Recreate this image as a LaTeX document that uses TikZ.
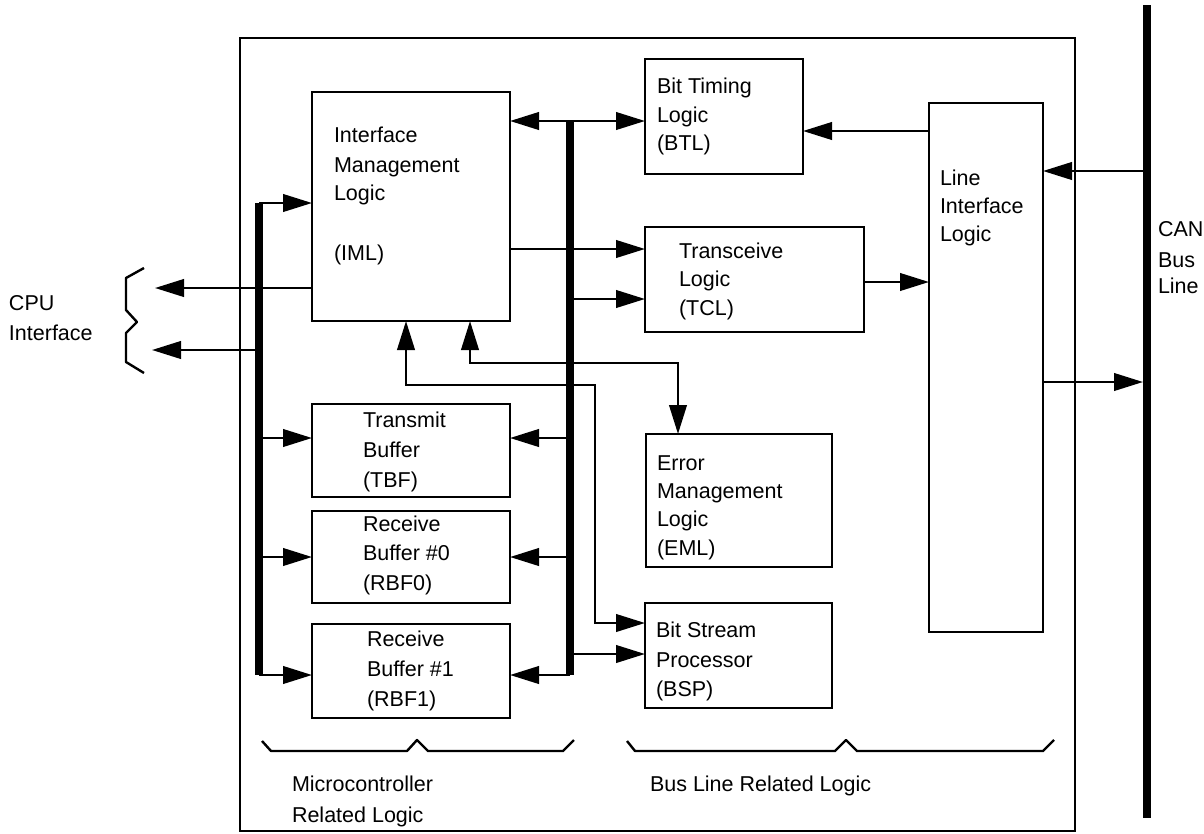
\documentclass[tikz,border=0pt]{standalone}
\usepackage{fontspec}
\setmainfont{Liberation Sans}
\usetikzlibrary{arrows.meta}
\begin{document}
\begin{tikzpicture}[x=1pt,y=-1pt,
  font=\fontsize{21.5}{25}\selectfont,
  box/.style={draw, line width=2.7pt, inner sep=0pt, outer sep=0pt},
  thinbox/.style={draw, line width=1.4pt, inner sep=0pt, outer sep=0pt},
  txt/.style={anchor=base west, inner sep=0pt, outer sep=0pt},
  conn/.style={line width=2.5pt},
  arr/.style={conn, -{Triangle[length=29pt,width=17.5pt]}},
  darr/.style={conn, {Triangle[length=29pt,width=17.5pt]}-{Triangle[length=29pt,width=17.5pt]}},
  bus/.style={line width=7.5pt},
  brace/.style={line width=2.4pt, line join=round}]
\useasboundingbox (0,0) rectangle (1204,833);

% outer frame
\node[box, line width=2.5pt, minimum width=835pt, minimum height=793pt] (frame) at (657.5,434.5) {};

% blocks
\node[box, minimum width=198pt, minimum height=229pt] (iml)  at (411,206.5) {};
\node[box, minimum width=158pt, minimum height=115pt] (btl)  at (724,116.5) {};
\node[box, minimum width=219pt, minimum height=105pt] (tcl)  at (754.5,279.5) {};
\node[box, minimum width=114pt, minimum height=529pt] (lil)  at (986,367.5) {};
\node[box, minimum width=198pt, minimum height=93pt]  (tbf)  at (411,450.5) {};
\node[box, minimum width=198pt, minimum height=92pt]  (rbf0) at (411,557) {};
\node[box, minimum width=198pt, minimum height=94pt]  (rbf1) at (411,671) {};
\node[box, minimum width=186pt, minimum height=133pt] (eml)  at (739,500.5) {};
\node[thinbox, minimum width=187pt, minimum height=105pt] (bsp) at (738.5,655.5) {};

% texts
\foreach \t/\y [count=\i] in {Interface/142, Management/172, Logic/200, (IML)/260}
  \node[txt] (imlt\i) at (334,\y) {\t};
\foreach \t/\y [count=\i] in {Bit Timing/93, Logic/122, (BTL)/150}
  \node[txt] (btlt\i) at (657,\y) {\t};
\foreach \t/\y [count=\i] in {Transceive/258, Logic/286, (TCL)/315}
  \node[txt] (tclt\i) at (679,\y) {\t};
\foreach \t/\y [count=\i] in {Line/185, Interface/213, Logic/241}
  \node[txt] (lilt\i) at (940,\y) {\t};
\foreach \t/\y [count=\i] in {CAN/236, Bus/267, Line/293}
  \node[txt] (cant\i) at (1158,\y) {\t};
\foreach \t/\y [count=\i] in {Transmit/427, Buffer/457, (TBF)/487}
  \node[txt] (tbft\i) at (363,\y) {\t};
\foreach \t/\y [count=\i] in {Receive/531, Buffer \#0/560, (RBF0)/590}
  \node[txt] (rbfat\i) at (363,\y) {\t};
\foreach \t/\y [count=\i] in {Receive/646, Buffer \#1/676, (RBF1)/706}
  \node[txt] (rbfbt\i) at (367,\y) {\t};
\foreach \t/\y [count=\i] in {Error/470, Management/498, Logic/526, (EML)/555}
  \node[txt] (emlt\i) at (657,\y) {\t};
\foreach \t/\y [count=\i] in {Bit Stream/637, Processor/667, (BSP)/696}
  \node[txt] (bspt\i) at (656,\y) {\t};
\foreach \t/\y [count=\i] in {CPU/310, Interface/340}
  \node[txt] (cput\i) at (9,\y) {\t};
\foreach \t/\y [count=\i] in {Microcontroller/791, Related Logic/822}
  \node[txt] (mcut\i) at (292,\y) {\t};
\node[txt] (blrl) at (650,791) {Bus Line Related Logic};

% buses
\coordinate (rbtop) at (570,121);
\coordinate (rbbot) at (570,675);
\coordinate (lbtop) at (259,203);
\coordinate (lbbot) at (259,675);
\coordinate (cantop) at (1147,5);
\coordinate (canbot) at (1147,818);
\coordinate (canL) at (1143,5);
\draw[bus] (rbtop) -- (rbbot);
\draw[bus] (lbtop) -- (lbbot);
\draw[bus] (cantop) -- (canbot);

% helper rows
\coordinate (yA) at (0,249);
\coordinate (yB) at (0,299);
\coordinate (yC) at (0,131);
\coordinate (yD) at (0,282);
\coordinate (yE) at (0,171);
\coordinate (yF) at (0,382);
\coordinate (yG) at (0,438);
\coordinate (yH) at (0,557);
\coordinate (yI) at (0,654);
\coordinate (cpu1) at (155,288);
\coordinate (cpu2) at (152,350);

% connectors
\draw[darr] (iml.east |- rbtop) -- (btl.west |- rbtop);
\draw[arr] (iml.east |- yA) -- (tcl.west |- yA);
\draw[arr] (rbtop |- yB) -- (tcl.west |- yB);
\draw[arr] (lil.west |- yC) -- (btl.east |- yC);
\draw[arr] (tcl.east |- yD) -- (lil.west |- yD);
\draw[arr] (cantop |- yE) -- (lil.east |- yE);
\draw[arr] (lil.east |- yF) -- (canL |- yF);
\draw[arr] (iml.west |- cpu1) -- (cpu1);
\draw[arr] (lbtop |- cpu2) -- (cpu2);
\draw[arr] (lbtop) -- (iml.west |- lbtop);
\draw[arr] (lbtop |- yG) -- (tbf.west |- yG);
\draw[arr] (lbtop |- yH) -- (rbf0.west |- yH);
\draw[arr] (lbbot) -- (rbf1.west |- lbbot);
\draw[arr] (rbtop |- yG) -- (tbf.east |- yG);
\draw[arr] (rbtop |- yH) -- (rbf0.east |- yH);
\draw[arr] (rbbot) -- (rbf1.east |- rbbot);
\draw[arr] (rbtop |- yI) -- (bsp.west |- yI);

\coordinate (p1) at (678,363);
\coordinate (p2) at (470,363);
\draw[darr] (iml.south -| p2) -- (p2) -- (p1) -- (eml.north -| p1);
\coordinate (q1) at (406,385);
\coordinate (q2) at (595,385);
\coordinate (q3) at (595,623);
\draw[darr] (iml.south -| q1) -- (q1) -- (q2) -- (q3) -- (bsp.west |- q3);

% braces
\draw[brace] (144,268) -- (126,278) -- (126,310) -- (137,322) -- (126,333) -- (126,362) -- (144,373);
\draw[brace] (262,741) -- (271,751) -- (407,751) -- (417,740) -- (428,751) -- (563,751) -- (574,740);
\draw[brace] (627,741) -- (635,751) -- (835,751) -- (846,740) -- (857,751) -- (1043,751) -- (1054,740);
\end{tikzpicture}
\end{document}
